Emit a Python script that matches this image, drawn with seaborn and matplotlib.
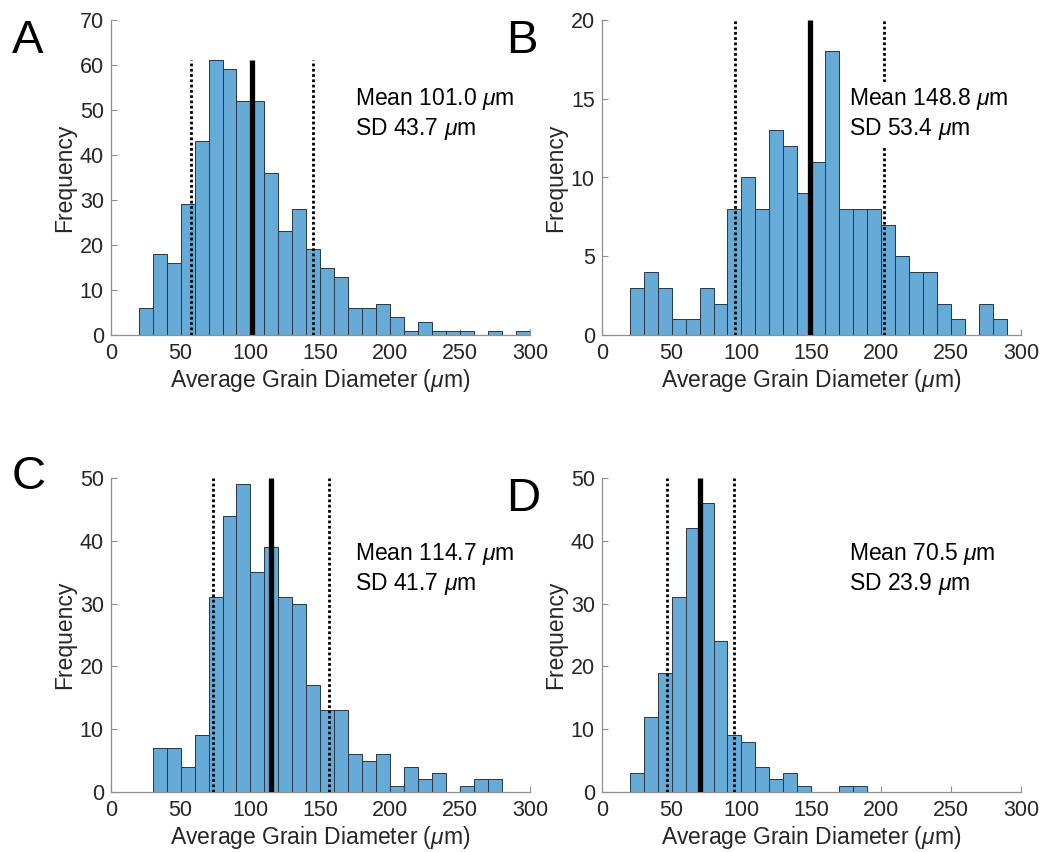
import numpy as np
import pandas as pd
import matplotlib
matplotlib.use("Agg")
import matplotlib.pyplot as plt
import seaborn as sns

# ---------------- data ----------------
bin_width = 10
panel_labels = ["A", "B", "C", "D"]
bin_starts = [20, 20, 30, 20]

counts_A = [6, 18, 16, 29, 43, 61, 59, 52, 52, 36, 23, 28, 19, 15, 13, 6, 6, 7,
            4, 1, 3, 1, 1, 1, 0, 1, 0, 1]
counts_B = [3, 4, 3, 1, 1, 3, 2, 8, 10, 8, 13, 12, 9, 11, 18, 8, 8, 8, 7, 5, 4,
            4, 2, 1, 0, 2, 1]
counts_C = [7, 7, 4, 9, 31, 44, 49, 35, 39, 31, 30, 17, 13, 13, 6, 5, 6, 1, 4,
            2, 3, 0, 1, 2, 2]
counts_D = [3, 12, 19, 31, 42, 46, 24, 9, 8, 4, 2, 3, 1, 0, 0, 1, 1]
all_counts = [counts_A, counts_B, counts_C, counts_D]

means = [101.0, 148.8, 114.7, 70.5]
sds = [43.7, 53.4, 41.7, 23.9]
line_tops = [61, 20, 50, 50]
y_max = [70, 20, 50, 50]
y_step = [10, 5, 10, 10]
x_ticks = [0, 50, 100, 150, 200, 250, 300]

xlabel = "Average Grain Diameter ($\\mu$m)"
ylabel = "Frequency"

# ---------------- style ----------------
sns.set_theme(style="ticks")
plt.rcParams["font.family"] = ["Liberation Sans", "DejaVu Sans"]
plt.rcParams["mathtext.fontset"] = "custom"
plt.rcParams["mathtext.rm"] = "Liberation Sans"
plt.rcParams["mathtext.it"] = "Liberation Sans:italic"

bar_color = "#66AAD7"
edge_color = "#2b3640"
spine_color = "#8f8f8f"
tick_text = "#262626"

fig = plt.figure(figsize=(10.42, 8.52), dpi=100)
W, H = 1042, 852
# axes boxes in pixels: left, top, right, bottom
boxes = [(110.7, 20, 530, 335), (601.7, 20, 1021, 335),
         (110.7, 478, 530, 792), (601.7, 478, 1021, 792)]
text_pos = [(0.582, 0.79), (0.5895, 0.79), (0.582, 0.80), (0.5895, 0.80)]
letter_pos = [(12, 19), (506, 19), (12, 455), (506, 477)]

for i in range(4):
    l, t, r, b = boxes[i]
    ax = fig.add_axes([l / W, 1 - b / H, (r - l) / W, (b - t) / H])
    counts = all_counts[i]
    edges = [bin_starts[i] + bin_width * k for k in range(len(counts) + 1)]
    centers = [e + bin_width / 2 for e in edges[:-1]]
    df = pd.DataFrame({"x": centers, "w": counts})
    sns.histplot(data=df, x="x", weights="w", bins=edges, ax=ax,
                 color=bar_color, alpha=1, edgecolor=edge_color,
                 linewidth=0.7, stat="count", zorder=1)
    m, s = means[i], sds[i]
    ax.plot([m, m], [0, line_tops[i]], color="black", lw=3.8,
            solid_capstyle="butt", zorder=3)
    for xv in (m - s, m + s):
        ax.plot([xv, xv], [0, line_tops[i]], color="black", lw=2.0,
                linestyle=(0, (1, 0.9)), zorder=3)
    ax.set_xlim(0, 300)
    ax.set_ylim(0, y_max[i])
    ax.set_xticks(x_ticks)
    ax.set_yticks(np.arange(0, y_max[i] + 1, y_step[i]))
    ax.set_xlabel(xlabel, fontsize=16.5, color=tick_text, labelpad=2)
    ax.set_ylabel(ylabel, fontsize=16.5, color=tick_text)
    ax.yaxis.set_label_coords(-0.083, 0.5)
    ax.tick_params(direction="in", length=4, width=0.8, colors=spine_color,
                   labelcolor=tick_text, labelsize=15.5)
    ax.tick_params(axis="x", pad=6)
    ax.tick_params(axis="y", pad=5)
    sns.despine(ax=ax)
    for sp in ("left", "bottom"):
        ax.spines[sp].set_color(spine_color)
        ax.spines[sp].set_linewidth(0.9)
    ax.patch.set_alpha(0)
    tx, ty = text_pos[i]
    ax.text(tx, ty, f"Mean {m:.1f} $\\mu$m\nSD {s:.1f} $\\mu$m",
            transform=ax.transAxes, fontsize=16.5, color="black",
            ha="left", va="top", linespacing=1.2, zorder=5,
            bbox=dict(facecolor="white", edgecolor="none", pad=3))
    lx, ly = letter_pos[i]
    fig.text(lx / W, 1 - ly / H, panel_labels[i], fontsize=34,
             ha="left", va="top", color="black")

fig.savefig("out.png", dpi=100, facecolor="white")
